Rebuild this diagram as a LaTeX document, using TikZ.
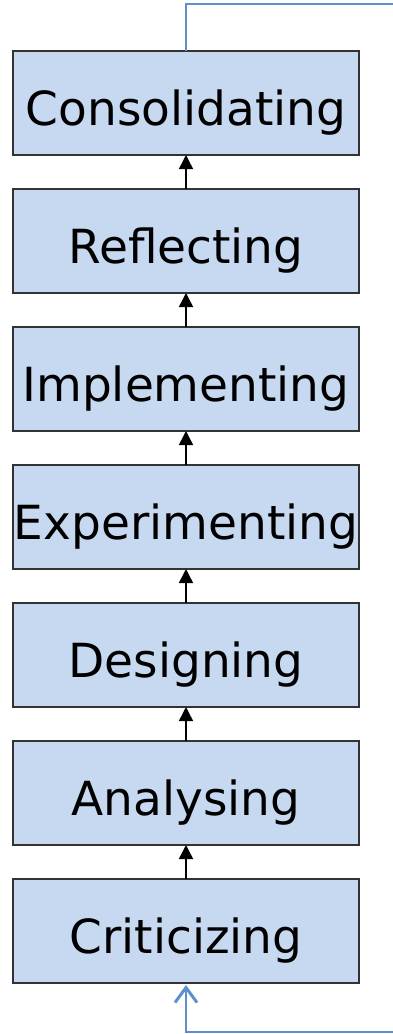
\documentclass[tikz,border=0pt]{standalone}
\usepackage{fontspec}
\setmainfont{DejaVu Sans}
\usepackage{tikz}
\usetikzlibrary{matrix,arrows.meta}

\definecolor{stagefill}{HTML}{C6D9F0}
\definecolor{stageline}{HTML}{333333}
\definecolor{loopblue}{HTML}{5E8FCB}

\tikzset{
  stage/.style={draw=stageline, fill=stagefill, line width=1.5pt, minimum width=346pt, minimum height=104pt, inner sep=0pt, outer sep=0pt, text height=44pt, text depth=0pt, anchor=center, font=\fontsize{47}{50}\selectfont},
  up/.style={-{Triangle[length=14pt,width=14pt]}, line width=1.5pt, black},
  back/.style={loopblue, line width=1.8pt}
}

\begin{document}
\begin{tikzpicture}[x=1pt,y=1pt]
\useasboundingbox (0,0) rectangle (392,-1034);
\matrix (M)[matrix of nodes, row sep=32.5pt, nodes={stage}] at (186,-517) {
Consolidating \\
Reflecting \\
Implementing \\
Experimenting \\
Designing \\
Analysing \\
Criticizing \\
};
\draw[up] (M-2-1.north) -- (M-1-1.south);
\draw[up] (M-3-1.north) -- (M-2-1.south);
\draw[up] (M-4-1.north) -- (M-3-1.south);
\draw[up] (M-5-1.north) -- (M-4-1.south);
\draw[up] (M-6-1.north) -- (M-5-1.south);
\draw[up] (M-7-1.north) -- (M-6-1.south);
% feedback loop leaving the page at the right
\coordinate (top) at (394,-4);
\coordinate (bot) at (394,-1032);
\draw[back] (M-1-1.north) |- (top);
\draw[back, -{Straight Barb[length=15pt,width=22pt,line width=3pt]}] (bot) -| ([yshift=-2pt]M-7-1.south);
\end{tikzpicture}
\end{document}
